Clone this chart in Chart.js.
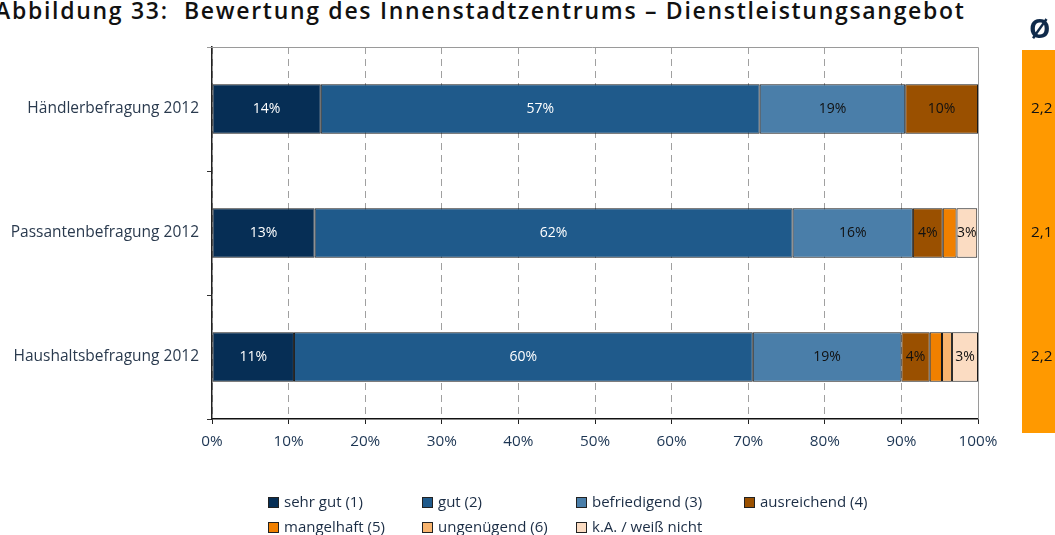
<!DOCTYPE html>
<html>
<head>
<meta charset="utf-8">
<script src="https://cdn.jsdelivr.net/npm/chart.js@4"></script>
<style>
  body { margin: 0; width: 1055px; height: 535px; overflow: hidden; background: #fff; font-family: "Open Sans", "Noto Sans", sans-serif; position: relative; }
  #title { position: absolute; left: -5px; top: -6px; font-size: 23px; font-weight: 600; color: #111; white-space: nowrap; letter-spacing: 1.7px; }
  #chart { position: absolute; left: 0; top: 0; }
  .leg { position: absolute; font-size: 15px; color: #1b2d45; white-space: nowrap; line-height: 16px; }
  .leg span { display: inline-block; width: 9px; height: 9px; border: 1px solid #222; margin-right: 5px; vertical-align: -1px; }
</style>
</head>
<body>
<div id="title">Abbildung 33:&nbsp; Bewertung des Innenstadtzentrums – Dienstleistungsangebot</div>
<canvas id="chart" width="1055" height="535"></canvas>
<div id="legend"></div>
<script>
// survey groups
const categories = ['Händlerbefragung 2012', 'Passantenbefragung 2012', 'Haushaltsbefragung 2012'];

// shares in percent, one array per rating
const sehrGut     = [14.2, 13.4, 10.7];
const gut         = [57.3, 62.4, 59.9];
const befriedigend = [19.0, 15.7, 19.4];
const ausreichend = [9.5, 3.9, 3.7];
const mangelhaft  = [0, 1.8, 1.6];
const ungenuegend = [0, 0, 1.3];
const keineAngabe = [0, 2.7, 3.4];

// average grade per group
const averages = ['2,2', '2,1', '2,2'];

const xTicks = [0, 10, 20, 30, 40, 50, 60, 70, 80, 90, 100];

const seriesNames = ['sehr gut (1)', 'gut (2)', 'befriedigend (3)', 'ausreichend (4)',
                     'mangelhaft (5)', 'ungenügend (6)', 'k.A. / weiß nicht'];
const seriesValues = [sehrGut, gut, befriedigend, ausreichend, mangelhaft, ungenuegend, keineAngabe];
const seriesColors = ['#062e55', '#1f5a8b', '#4a7ea9', '#9a5000', '#f08000', '#f8b46e', '#fbdcc2'];
const labelColors  = ['#fff', '#fff', '#111', '#111', '#111', '#111', '#111'];

const FONT = '"Open Sans", "Noto Sans", sans-serif';

// percent labels inside the bars
const barLabels = {
    id: 'barLabels',
    afterDatasetsDraw(chart) {
        const ctx = chart.ctx;
        ctx.save();
        ctx.font = '14px ' + FONT;
        ctx.textAlign = 'center';
        ctx.textBaseline = 'middle';
        chart.data.datasets.forEach((ds, i) => {
            chart.getDatasetMeta(i).data.forEach((bar, j) => {
                let v = ds.data[j];
                if (v < 2.5) return;
                ctx.fillStyle = labelColors[i];
                ctx.fillText(Math.round(v) + '%', (bar.x + bar.base) / 2, bar.y);
            });
        });
        ctx.restore();
    }
};

// gray frame on top/right, plus the orange average column
const extras = {
    id: 'extras',
    beforeDatasetsDraw(chart) {
        const ctx = chart.ctx, a = chart.chartArea;
        ctx.save();
        ctx.strokeStyle = '#9a9a9a';
        ctx.lineWidth = 1;
        ctx.beginPath();
        ctx.moveTo(a.left - 5, a.top + 0.5);
        ctx.lineTo(a.right + 0.5, a.top + 0.5);
        ctx.lineTo(a.right + 0.5, a.bottom);
        ctx.stroke();
        ctx.restore();
    },
    afterDraw(chart) {
        const ctx = chart.ctx, a = chart.chartArea, y = chart.scales.y;
        ctx.save();
        ctx.fillStyle = '#ff9900';
        ctx.fillRect(1022, a.top + 3, 40, a.bottom - a.top + 11);
        ctx.fillStyle = '#0f2a4a';
        ctx.font = 'bold 27px ' + FONT;
        ctx.textBaseline = 'middle';
        ctx.fillText('Ø', 1029, 30);
        ctx.fillStyle = '#111';
        ctx.font = '15.3px ' + FONT;
        averages.forEach((t, i) => ctx.fillText(t, 1031, y.getPixelForValue(i)));
        ctx.restore();
    }
};

let ctx = document.getElementById('chart').getContext('2d');

let chart = new Chart(ctx, {
    type: 'bar',
    data: {
        labels: categories,
        datasets: seriesNames.map((name, i) => ({
            label: name,
            data: seriesValues[i],
            backgroundColor: seriesColors[i],
            borderColor: '#1a1a1a',
            borderWidth: 1,
            borderSkipped: false,
            barPercentage: 1,
            categoryPercentage: 0.4
        }))
    },
    options: {
        indexAxis: 'y',
        responsive: false,
        animation: false,
        layout: { padding: { top: 47, right: 77, left: 0, bottom: 0 } },
        plugins: { legend: { display: false }, tooltip: { enabled: false } },
        scales: {
            x: {
                stacked: true,
                min: 0,
                max: 100,
                afterBuildTicks: (s) => { s.ticks = xTicks.map(v => ({ value: v })); },
                afterFit: (s) => { s.height = 116; },
                ticks: {
                    callback: (v) => v + '%',
                    color: '#1c3553',
                    font: { family: FONT, size: 15.3 },
                    padding: 8,
                    maxRotation: 0
                },
                grid: {
                    color: (c) => c.index === 10 ? 'rgba(0,0,0,0)' : '#a0a0a0',
                    tickColor: '#222',
                    tickLength: 5,
                    tickBorderDash: [],
                    lineWidth: 1
                },
                border: { color: '#111', width: 1.5, dash: [7, 5] }
            },
            y: {
                stacked: true,
                afterFit: (s) => { s.width = 212; },
                ticks: {
                    color: '#2a3a4e',
                    font: { family: FONT, size: 15.5 },
                    padding: 8
                },
                grid: {
                    drawOnChartArea: false,
                    tickColor: '#333',
                    tickLength: 5
                },
                border: { color: '#222', width: 1.5 }
            }
        }
    },
    plugins: [extras, barLabels]
});

// legend grid, two rows
const legendCols = [268, 422, 576, 744];
const legendRows = [493, 518];
let legendHtml = '';
seriesNames.forEach((name, i) => {
    let left = legendCols[i % 4], top = legendRows[Math.floor(i / 4)];
    legendHtml += '<div class="leg" style="left:' + left + 'px;top:' + top + 'px"><span style="background:' +
        seriesColors[i] + '"></span>' + name + '</div>';
});
document.getElementById('legend').innerHTML = legendHtml;
</script>
</body>
</html>
